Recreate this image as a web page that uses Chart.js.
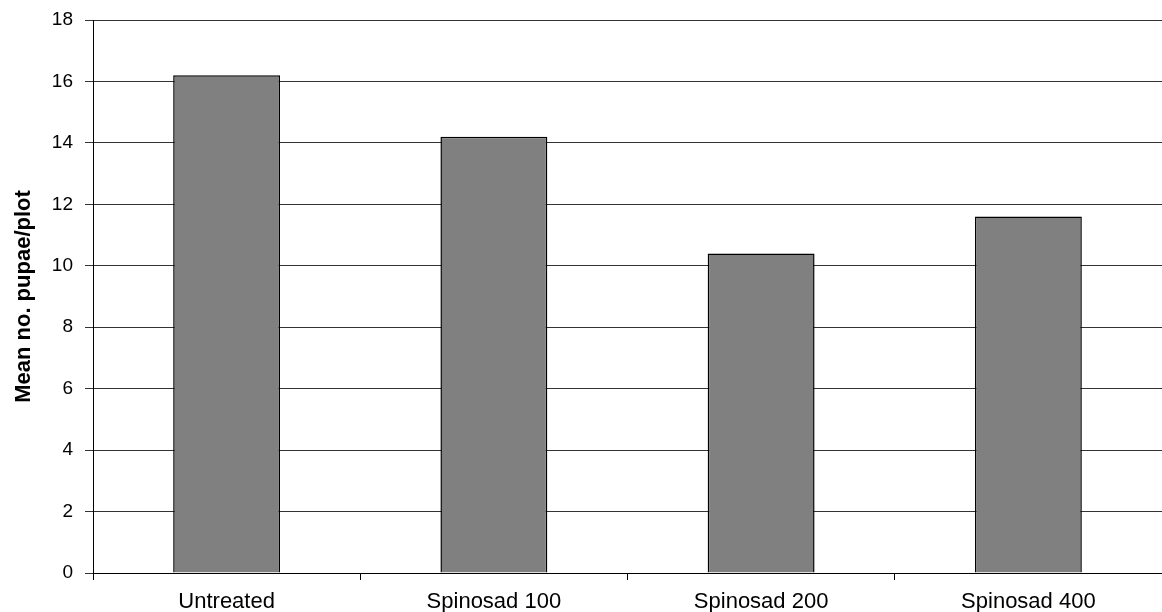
<!DOCTYPE html>
<html>
<head>
<meta charset="utf-8">
<script src="https://cdn.jsdelivr.net/npm/chart.js@4"></script>
<style>
  html, body { margin: 0; padding: 0; background: #fff; }
  #wrap { width: 1162px; height: 612px; }
</style>
</head>
<body>
<div id="wrap"><canvas id="c" width="1162" height="612"></canvas></div>
<script>
// Mean pupae counts per plot for each treatment
const categories = ['Untreated', 'Spinosad 100', 'Spinosad 200', 'Spinosad 400'];
const meanPupae = [16.2, 14.2, 10.4, 11.6];
const yTicks = [0, 2, 4, 6, 8, 10, 12, 14, 16, 18];

const FONT = '"Liberation Sans", Arial, sans-serif';

new Chart(document.getElementById('c'), {
  type: 'bar',
  data: {
    labels: categories,
    datasets: [{
      data: meanPupae,
      backgroundColor: '#808080',
      borderColor: '#000',
      borderWidth: 1.5,
      borderSkipped: 'bottom',
      categoryPercentage: 1.0,
      barPercentage: 0.4
    }]
  },
  options: {
    responsive: false,
    animation: false,
    devicePixelRatio: 1,
    layout: { padding: { top: 20, right: 0, bottom: 0, left: 0 } },
    plugins: { legend: { display: false }, tooltip: { enabled: false } },
    scales: {
      x: {
        offset: true,
        afterFit: s => { s.height = 39; },
        grid: { offset: true, drawOnChartArea: false, color: '#000', tickLength: 7, lineWidth: 1 },
        border: { color: '#000', width: 1 },
        ticks: { color: '#000', font: { family: FONT, size: 22 }, padding: 9, maxRotation: 0 }
      },
      y: {
        min: 0,
        max: 18,
        afterBuildTicks: s => { s.ticks = yTicks.map(v => ({ value: v })); },
        afterFit: s => { s.width = 93; s.paddingTop = 0; s.paddingBottom = 0; },
        grid: { color: '#333', lineWidth: 1, tickLength: 8 },
        border: { color: '#000', width: 1 },
        ticks: { color: '#000', font: { family: FONT, size: 19 }, padding: 12 },
        title: {
          display: true,
          text: 'Mean no. pupae/plot',
          color: '#000',
          font: { family: FONT, size: 22, weight: 'bold' },
          padding: { top: 11, bottom: 0 }
        }
      }
    }
  }
});
</script>
</body>
</html>
